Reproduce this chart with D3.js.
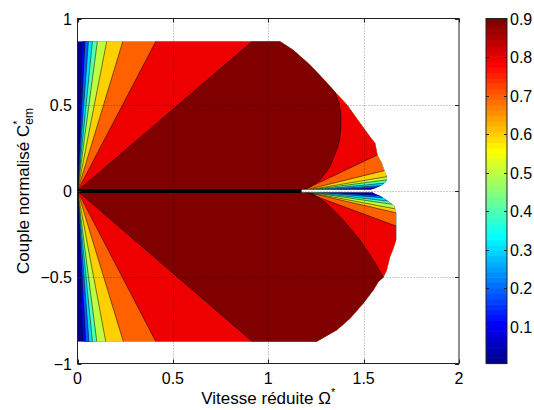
<!DOCTYPE html>
<html><head><meta charset="utf-8">
<script src="https://cdn.jsdelivr.net/npm/d3@7"></script>
<style>
body{margin:0;background:#fff}
svg{display:block}
text{font-family:"Liberation Sans",Arial,Helvetica,sans-serif;fill:#000}
</style>
</head><body>
<svg id="chart" width="534" height="410"></svg>
<script>
// Efficiency map: filled contours of efficiency over reduced speed / normalised torque.
const levels = [0.1, 0.2, 0.3, 0.4, 0.5, 0.6, 0.7, 0.8, 0.9];
const cMin = 0.005, cMax = 0.9;          // colour axis limits
const xTicks = [0, 0.5, 1, 1.5, 2];
const yTicks = [-1, -0.5, 0, 0.5, 1];
const cbTicks = [0.1, 0.2, 0.3, 0.4, 0.5, 0.6, 0.7, 0.8, 0.9];

const torqueMax = 0.866, torqueMin = -0.872;   // flat torque limits
const fanApexSpeed = 1.175;                    // where the high-speed fans converge on C = 0
const gapEndSpeed = 1.545;                     // undefined strip along C = 0

// speed at which each level's straight contour meets the torque limit
const upperEdgeSpeed = [0.024, 0.039, 0.057, 0.078, 0.104, 0.153, 0.237, 0.410, 0.915];
const lowerEdgeSpeed = [0.027, 0.043, 0.060, 0.078, 0.101, 0.148, 0.240, 0.410, 0.916];

// operating limit (speed, torque), from the torque-limit corner toward C = 0
const upperBoundary = [[1.062,0.866],[1.130,0.817],[1.219,0.730],[1.308,0.626],[1.350,0.574],
  [1.413,0.499],[1.481,0.394],[1.534,0.313],[1.560,0.277],[1.572,0.209],[1.595,0.161],
  [1.608,0.118],[1.621,0.083],[1.617,0.054],[1.595,0.035],[1.565,0.019],[1.542,0.010],[1.538,0.003]];
const lowerBoundary = [[1.254,-0.872],[1.359,-0.806],[1.429,-0.738],[1.498,-0.651],[1.551,-0.574],
  [1.577,-0.526],[1.603,-0.500],[1.621,-0.458],[1.638,-0.381],[1.656,-0.332],[1.670,-0.284],
  [1.670,-0.203],[1.670,-0.126],[1.659,-0.087],[1.638,-0.068],[1.612,-0.048],[1.586,-0.029],
  [1.551,-0.013],[1.547,-0.006]];

// torque at which levels 0.1 … 0.8 of the high-speed fan meet the operating limit
const upperFanEndTorque = [0.010, 0.019, 0.031, 0.045, 0.064, 0.083, 0.118, 0.209];
const lowerFanEndTorque = [-0.016, -0.026, -0.039, -0.058, -0.077, -0.103, -0.126, -0.203];

// right-hand branch of the 0.9 contour
const upperPeakCurve = [[1.350,0.574],[1.371,0.510],[1.381,0.441],[1.381,0.365],[1.374,0.296],
  [1.359,0.238],[1.324,0.141],[1.271,0.064],[1.219,0.023],[1.175,0]];
const lowerPeakCurve = [[1.603,-0.500],[1.551,-0.400],[1.481,-0.284],[1.393,-0.168],
  [1.306,-0.071],[1.236,-0.017],[1.175,0]];

const halves = [
  {edgeTorque: torqueMax, edgeSpeed: upperEdgeSpeed, boundary: upperBoundary, fanEnd: upperFanEndTorque, peak: upperPeakCurve},
  {edgeTorque: torqueMin, edgeSpeed: lowerEdgeSpeed, boundary: lowerBoundary, fanEnd: lowerFanEndTorque, peak: lowerPeakCurve}
];

// MATLAB-style 64-entry jet lookup
function jetRow(k){
  const t = k / 64;
  const c = a => Math.round(255 * Math.max(0, Math.min(1, a)));
  return `rgb(${c(Math.min(4*t-1.5, -4*t+4.5))},${c(Math.min(4*t-0.5, -4*t+3.5))},${c(Math.min(4*t+0.5, -4*t+2.5))})`;
}
function jet(v){
  let k = Math.floor((v - cMin) / (cMax - cMin) * 64) + 1;
  return jetRow(Math.max(1, Math.min(64, k)));
}

const svg = d3.select("#chart");
const x = d3.scaleLinear([0, 2], [77.5, 459]);
const y = d3.scaleLinear([-1, 1], [363.5, 18.5]);
const line = d3.line().x(d => x(d[0])).y(d => y(d[1]));

function pointAt(boundary, c){
  for (let i = 0; i < boundary.length - 1; i++){
    const a = boundary[i], b = boundary[i+1];
    if ((a[1]-c) * (b[1]-c) <= 0){
      const f = (c - a[1]) / (b[1] - a[1]);
      return [a[0] + f*(b[0]-a[0]), c];
    }
  }
  return boundary[boundary.length-1];
}

function levelPolygon(h, i){
  const pts = [[0,0], [h.edgeSpeed[i], h.edgeTorque]];
  const peak = i === levels.length - 1;
  const endC = peak ? h.peak[0][1] : h.fanEnd[i];
  for (const p of h.boundary){ if (Math.abs(p[1]) > Math.abs(endC)) pts.push(p); else break; }
  if (peak) pts.push(...h.peak);
  else { pts.push(pointAt(h.boundary, endC)); pts.push([fanApexSpeed, 0]); }
  return pts;
}

const plot = svg.append("g");
halves.forEach(h => {
  // whole operating domain, lowest band
  const domain = [[0,0],[0,h.edgeTorque], ...h.boundary, [fanApexSpeed,0]];
  plot.append("path").attr("d", line(domain) + "Z").attr("fill", jet(cMin))
    .attr("stroke", "#555").attr("stroke-width", 0.4);
  levels.forEach((L, i) => {
    plot.append("path").attr("d", line(levelPolygon(h, i)) + "Z").attr("fill", jet(L));
  });
  // contour lines
  levels.forEach((L, i) => {
    plot.append("path").attr("d", line([[0,0],[h.edgeSpeed[i], h.edgeTorque]]))
      .attr("fill", "none").attr("stroke", "#000").attr("stroke-width", 0.5);
    const right = i === levels.length - 1 ? h.peak : [pointAt(h.boundary, h.fanEnd[i]), [fanApexSpeed, 0]];
    plot.append("path").attr("d", line(right))
      .attr("fill", "none").attr("stroke", "#000").attr("stroke-width", 0.5);
  });
});
// contours bunching on C = 0 and the undefined strip beyond the apex
plot.append("path").attr("d", line([[0,0],[fanApexSpeed,0]])).attr("stroke", "#000").attr("stroke-width", 3.8);
plot.append("path").attr("d", line([[fanApexSpeed,0],[gapEndSpeed,0]])).attr("stroke", "#fff").attr("stroke-width", 2.6);

// dotted grid
const grid = svg.append("g").attr("stroke", "#000").attr("stroke-opacity", 0.4)
  .attr("stroke-width", 1).attr("stroke-dasharray", "1,2");
xTicks.slice(1, -1).forEach(t => grid.append("line").attr("x1", Math.round(x(t))+0.5).attr("x2", Math.round(x(t))+0.5).attr("y1", y(1)).attr("y2", y(-1)));
yTicks.slice(1, -1).forEach(t => grid.append("line").attr("x1", x(0)).attr("x2", x(2)).attr("y1", Math.round(y(t))+0.5).attr("y2", Math.round(y(t))+0.5));

// axes box and ticks
const ax = svg.append("g").attr("stroke", "#222").attr("stroke-width", 1).attr("fill", "none");
ax.append("rect").attr("x", x(0)).attr("y", y(1)).attr("width", x(2)-x(0)).attr("height", y(-1)-y(1));
xTicks.forEach(t => {
  const px = Math.round(x(t)) + 0.5;
  ax.append("line").attr("x1", px).attr("x2", px).attr("y1", y(-1)).attr("y2", y(-1)-4);
  ax.append("line").attr("x1", px).attr("x2", px).attr("y1", y(1)).attr("y2", y(1)+4);
});
yTicks.forEach(t => {
  const py = Math.round(y(t)) + 0.5;
  ax.append("line").attr("x1", x(0)).attr("x2", x(0)+4).attr("y1", py).attr("y2", py);
  ax.append("line").attr("x1", x(2)).attr("x2", x(2)-4).attr("y1", py).attr("y2", py);
});
const fs = 16, titleFs = 17;
svg.append("g").selectAll("text").data(xTicks).join("text")
  .attr("x", d => x(d)).attr("y", 383.5).attr("text-anchor", "middle").attr("font-size", fs)
  .text(d => d3.format("~g")(d));
svg.append("g").selectAll("text").data(yTicks).join("text")
  .attr("x", 72).attr("y", d => y(d) + 6).attr("text-anchor", "end").attr("font-size", fs)
  .text(d => d3.format("~g")(d));

// axis titles
const xl = svg.append("text").attr("x", (x(0)+x(2))/2).attr("y", 404).attr("text-anchor", "middle").attr("font-size", titleFs);
xl.append("tspan").text("Vitesse réduite Ω");
xl.append("tspan").attr("font-size", 11).attr("dy", -8).text("*");
const yl = svg.append("text").attr("transform", `translate(29,${y(0)}) rotate(-90)`).attr("text-anchor", "middle").attr("font-size", titleFs);
yl.append("tspan").text("Couple normalisé C");
yl.append("tspan").attr("font-size", 11).attr("dy", -8).text("*");
yl.append("tspan").attr("font-size", 12).attr("dx", -4.3).attr("dy", 12).text("em");

// colour bar
const cb = d3.scaleLinear([cMin, cMax], [363.5, 18.5]);
const cbX = 486, cbW = 21;
const cbG = svg.append("g");
d3.range(1, 65).forEach(k => {
  const v0 = cMin + (k-1)/64*(cMax-cMin), v1 = cMin + k/64*(cMax-cMin);
  cbG.append("rect").attr("x", cbX).attr("width", cbW).attr("y", cb(v1)).attr("height", cb(v0)-cb(v1)+0.6)
    .attr("fill", jetRow(k));
});
cbG.append("rect").attr("x", cbX).attr("y", cb(cMax)).attr("width", cbW).attr("height", cb(cMin)-cb(cMax))
  .attr("fill", "none").attr("stroke", "#222");
cbTicks.forEach(t => {
  const py = Math.round(cb(t)) + 0.5;
  cbG.append("line").attr("x1", cbX).attr("x2", cbX+3).attr("y1", py).attr("y2", py).attr("stroke", "#222");
  cbG.append("line").attr("x1", cbX+cbW).attr("x2", cbX+cbW-3).attr("y1", py).attr("y2", py).attr("stroke", "#222");
});
cbG.selectAll("text").data(cbTicks).join("text")
  .attr("x", 510).attr("y", d => cb(d) + 6).attr("font-size", fs).text(d => d3.format(".1f")(d));
</script>
</body></html>
